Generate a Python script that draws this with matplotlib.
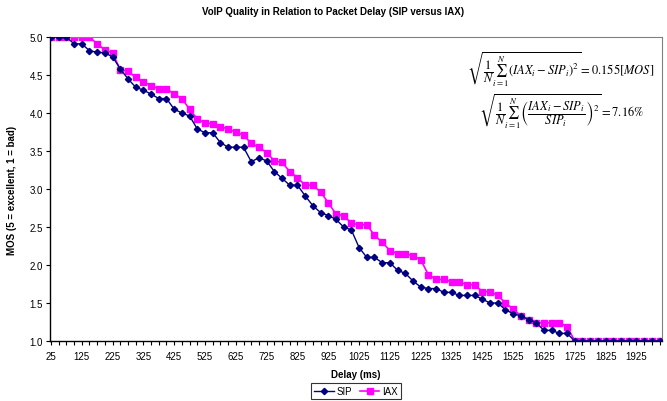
import numpy as np
import matplotlib
matplotlib.use("Agg")
import matplotlib.pyplot as plt

# delay categories, 25 ms steps
delay = list(range(25, 2001, 25))

sip = [5.0, 5.0, 5.0, 4.91, 4.91, 4.82, 4.80, 4.79, 4.74, 4.58,
       4.45, 4.34, 4.30, 4.25, 4.19, 4.19, 4.05, 4.00, 3.96, 3.79,
       3.74, 3.74, 3.61, 3.55, 3.55, 3.55, 3.36, 3.41, 3.37, 3.23,
       3.14, 3.05, 3.05, 2.91, 2.78, 2.69, 2.65, 2.60, 2.50, 2.46,
       2.23, 2.10, 2.10, 2.03, 2.03, 1.93, 1.89, 1.79, 1.71, 1.69,
       1.69, 1.64, 1.64, 1.60, 1.60, 1.60, 1.55, 1.50, 1.50, 1.41,
       1.36, 1.33, 1.28, 1.24, 1.14, 1.14, 1.10, 1.10] + [1.0] * 12

iax = [5.0, 5.0, 5.0, 5.0, 5.0, 5.0, 4.91, 4.83, 4.79, 4.57,
       4.55, 4.47, 4.41, 4.36, 4.32, 4.32, 4.25, 4.19, 4.05, 3.92,
       3.87, 3.86, 3.82, 3.79, 3.75, 3.71, 3.60, 3.55, 3.48, 3.37,
       3.35, 3.23, 3.15, 3.05, 3.05, 2.96, 2.82, 2.67, 2.65, 2.55,
       2.53, 2.53, 2.39, 2.30, 2.19, 2.15, 2.15, 2.12, 2.07, 1.87,
       1.81, 1.81, 1.78, 1.78, 1.74, 1.74, 1.65, 1.65, 1.60, 1.50,
       1.42, 1.33, 1.28, 1.24, 1.24, 1.24, 1.24, 1.19] + [1.0] * 12

y_ticks = [1.0, 1.5, 2.0, 2.5, 3.0, 3.5, 4.0, 4.5, 5.0]

plt.rcParams["font.family"] = ["Liberation Sans", "DejaVu Sans"]
plt.rcParams["mathtext.fontset"] = "stix"

fig = plt.figure(figsize=(6.67, 4.02), dpi=100)
ax = fig.add_axes([50 / 667, 60 / 402, 612 / 667, 304 / 402])

ax.plot(delay, iax, color="#ff00ff", marker="s", markersize=4.5, linewidth=1.2, label="IAX", zorder=2)
ax.plot(delay, sip, color="#000080", marker="D", markersize=3.2, linewidth=1.0, label="SIP", zorder=3)

ax.set_xlim(22, 2008)
ax.set_ylim(1.0, 5.0)
ax.set_xticks(delay)
ax.set_xticklabels([str(d) if i % 4 == 0 else "" for i, d in enumerate(delay)], fontsize=7)
ax.set_yticks(y_ticks)
ax.set_yticklabels(["%.1f" % v for v in y_ticks], fontsize=7)
ax.tick_params(axis="x", length=3, width=0.8, pad=4)
ax.tick_params(axis="y", length=3, width=0.8, pad=2)

for s in ["top", "right"]:
    ax.spines[s].set_color("#808080")
    ax.spines[s].set_linewidth(0.8)
for s in ["left", "bottom"]:
    ax.spines[s].set_color("black")
    ax.spines[s].set_linewidth(1.0)

ax.set_xlabel("Delay (ms)", fontsize=7, fontweight="bold", labelpad=6)
ax.set_ylabel("MOS (5 = excellent, 1 = bad)", fontsize=7, fontweight="bold", labelpad=9)
fig.text(0.5, 1 - 12 / 402, "VoIP Quality in Relation to Packet Delay (SIP versus IAX)",
         ha="center", va="center", fontsize=7, fontweight="bold")

# formulas
fig.text(561 / 667, 1 - 70 / 402,
         r"$\sqrt{\dfrac{1}{N}\sum_{i=1}^{N}(IAX_i - SIP_i)^2} = 0.155[MOS]$",
         ha="center", va="center", fontsize=9)
fig.text(562 / 667, 1 - 112 / 402,
         r"$\sqrt{\dfrac{1}{N}\sum_{i=1}^{N}\left(\dfrac{IAX_i - SIP_i}{SIP_i}\right)^2} = 7.16\%$",
         ha="center", va="center", fontsize=9)

handles, labels = ax.get_legend_handles_labels()
leg = fig.legend(handles[::-1], labels[::-1], loc="center", bbox_to_anchor=(356 / 667, 1 - 392 / 402),
                 ncol=2, fontsize=7, frameon=True, fancybox=False, edgecolor="black",
                 handlelength=2.0, columnspacing=0.8, borderpad=0.3, handletextpad=0.3)
leg.get_frame().set_linewidth(0.8)

fig.savefig("out.png", dpi=100)
